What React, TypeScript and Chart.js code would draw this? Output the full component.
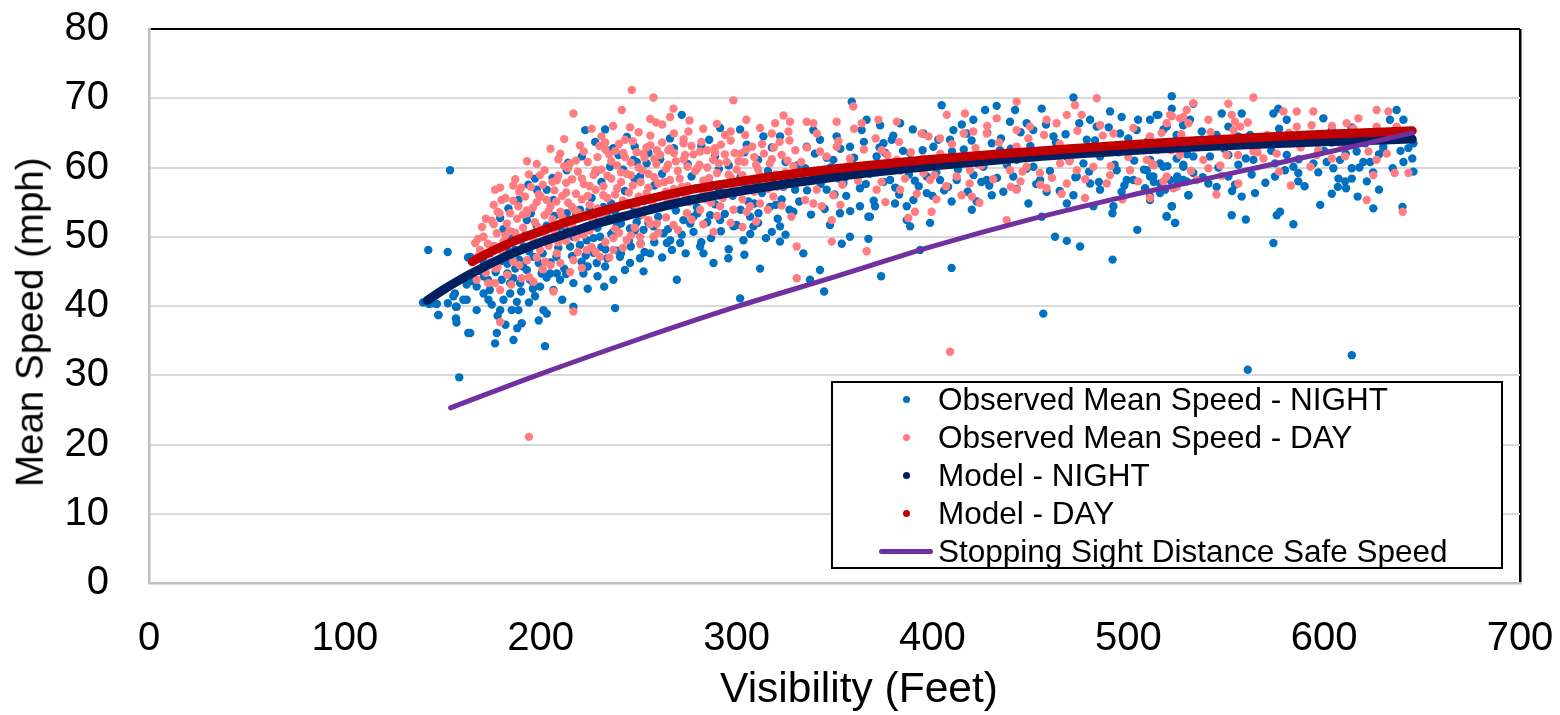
import React, { useEffect, useRef } from 'react';
import { Chart, registerables } from 'chart.js';

Chart.register(...registerables);

const FONT = "'Liberation Sans', Arial, Helvetica, sans-serif";

// ---------- axis ticks & titles ----------
const xTickValues = [0, 100, 200, 300, 400, 500, 600, 700];
const yTickValues = [0, 10, 20, 30, 40, 50, 60, 70, 80];
const xTitle = 'Visibility (Feet)';
const yTitle = 'Mean Speed (mph)';

// ---------- series labels ----------
const seriesLabels = [
  'Observed Mean Speed - NIGHT',
  'Observed Mean Speed - DAY',
  'Model - NIGHT',
  'Model - DAY',
  'Stopping Sight Distance Safe Speed',
];
const seriesColors = ['#0070C0', '#FF7C80', '#002060', '#C00000', '#7030A0'];

// ---------- Observed Mean Speed - NIGHT  [visibility ft, mph] ----------
const nightObserved: number[][] = [
  [142.6,48.1],[152.5,47.8],[153.7,59.6],[162.9,47.0],[162.2,43.1],[139.9,40.5],[143,40.3],[147,40.3],[147.7,38.7],[152.6,40.4],
  [156.2,41.8],[156.7,39.9],[160.5,40.9],[156.7,38.2],[157,37.6],[163,36.1],[158.4,29.7],[164,47.1],[167.3,39.4],[164,36.1],
  [176.7,34.6],[177.6,36.1],[175,40.2],[179.3,39.4],[186.1,35.1],[190.3,37.5],[184.4,41.8],[187.8,40.6],[180.1,43.8],[184.4,43.3],
  [179.3,52.7],[183.5,54.1],[188.6,55.3],[193.7,57.5],[197.1,58.4],[198,56.8],[196.3,47.1],[192.9,45.2],[197.1,41.4],[203.1,38.9],
  [201.4,39.4],[202.2,34.2],[196.3,43.3],[189.5,43.3],[203.1,56.8],[206.5,55.3],[208.2,51.0],[213.3,59.6],[208.2,44.7],[209.9,43.8],
  [216.7,43.3],[216.7,39.9],[222.7,65.4],[232.9,65.5],[227.8,63.7],[237.1,62.8],[239.7,61.8],[235.4,60.1],[247.3,61.1],[249,60.8],
  [254.1,60.6],[250.7,58.7],[221.8,44.7],[220.9,46.4],[228.6,46.2],[232.9,45.7],[237.1,43.8],[232.4,42.8],[238,39.7],[240.5,47.1],
  [245.6,46.2],[250.7,46.9],[252.5,45],[255.9,47.6],[264.4,49.1],[269.5,43.8],[271.2,49.1],[272,67.6],[266.1,49.5],[262.7,50.5],
  [276.3,51.9],[281.4,48.6],[283.1,47.6],[288.2,46.2],[295.8,46.9],[291.6,65.7],[301.8,65.5],[301.8,41.1],[305.2,63.3],[312,45.4],
  [313.7,64.5],[322.2,64.5],[322.2,51.5],[318,50.7],[322.2,49.3],[329,53.6],[329.9,56.8],[323.9,57.2],[286.5,53.1],[291.6,52.4],
  [298.4,51.5],[308.6,51.5],[303.5,49.5],[306.9,52.9],[311.2,53.4],[278,52.9],[279.7,54.3],[272.9,52.4],[257.6,51.5],[252.5,51],
  [245.6,51.2],[238.8,51.5],[230.3,50],[223.5,49.5],[216.7,50],[211.6,51.5],[213.3,53.4],[220.1,53.9],[226.9,52.4],[233.7,53.4],
  [240.5,52.4],[247.3,54.4],[192.9,52.4],[198,51.5],[184.4,50],[182.7,48.1],[186.9,48.1],[191.2,48.6],[174.2,47.6],[170.8,46.4],
  [167.3,42.8],[170.8,41.8],[173.3,40.9],[181,40.9],[185.2,39.4],[188.6,39.4],[199.7,42.8],[206.5,42.3],[204.8,44.7],[200.5,44.7],
  [194.6,43.8],[162.2,40.9],[155.4,41.4],[157.1,39.9],[147.8,38.7],[145.2,40.4],
  [226,55.6],[231,57.9],[236,54.8],[243,56.6],[248,58.3],[253,55.2],[258,57.4],[262,59.1],[267,54.5],[272,56.9],
  [277,58.7],[282,55.7],[287,57.5],[291,59.8],[296,56.3],[302,58.6],[306,55.1],[311,57.3],[316,59.5],[320,54.6],
  [326,58.1],[331,60.3],[336,56.7],[341,59.1],[346,61.4],[352,58.4],[356,55.9],[361,60.2],[366,57.6],[371,59.7],
  [376,62.1],[381,57.1],[385,60.4],[391,58.1],[396,61.2],[402,59.3],[406,56.7],[412,60.7],[416,62.6],[421,58.9],
  [425,61.7],[429,57.4],[191,45.7],[194,47.9],[199,46.2],[204,49.3],[208,47.1],[212,45.4],[215,48.6],[219,50.4],
  [223,47.3],[227,49.8],[229,44.3],[233,48.2],[237,50.7],[241,47.6],[245,49.4],[249,52.1],[183,46.1],[186,44.0],
  [196,42.5],[203,44.1],[211,40.9],[224,42.5],[177,44.9],[173,43.8],[169,45.1],[165,43.6],
  [358.8,69.5],[472,70.1],[522.2,70.3],[404.7,69],[432.8,68.9],[426.9,68.3],[442.2,68.3],[455.8,68.5],[511.1,66.9],[515.4,67.6],
  [490.7,68.1],[496.6,67.3],[366.4,66.9],[373.3,66.1],[383.5,66.4],[339.2,65.4],[410.7,65.4],[417.5,64.9],[439.6,66.6],[448.1,66.4],
  [480.5,66.9],[334.1,47.6],[342.6,45.2],[337.5,43.8],[344.7,42.1],[353.7,49],[357.9,50],[367.3,49.7],[367.3,52.9],[373.8,44.3],
  [393.7,48.1],[409.8,45.5],[398.8,52],[386.9,54.4],[390.3,55.3],[386.9,52.4],[388.6,51.5],[363,54.4],[352.8,53.4],[347.7,51.7],
  [368.1,52.9],[370.7,54.4],[380.9,54.8],[397.1,56.3],[403.9,58.2],[409.8,55.1],[420.1,53.9],[422.6,55.1],[430.3,56],[436.2,56.5],
  [449,54.8],[455.8,52.9],[458.3,56.5],[462.6,50],[468.6,49.4],[475.4,48.6],[468.6,54.8],[472,56],[482.2,54.4],[485.6,56.8],
  [492.4,54.4],[491.9,53.4],[492,46.7],[504.6,51],[496.6,56.5],[502.6,58.2],[508.6,57],[512.8,58.7],[519.6,52.9],[523.9,52],
  [522.2,54.4],[530.7,56],[518.8,56.8],[509.4,59.6],[516.2,60.6],[528.1,60.1],[533.2,61.6],[456.6,38.9],
  [349.4,61.1],[357.9,63],[375,63.5],[383.5,59.6],[392,60.6],[400.5,63],[409,64],[417.5,61.6],[426,60.1],[434.5,62.5],
  [443,61.1],[451.5,60.1],[460.1,62.1],[468.6,61.6],[477.1,60.6],[485.6,61.6],[494.1,59.6],[502.6,62.5],[511.1,61.1],[519.6,63],
  [528.1,58.2],[533.2,59.2],[340.9,58.2],[346,56.8],[354.5,57.7],[378.4,58.2],[397.1,58.7],[412.4,58.2],[427.7,58.2],[441.3,58.7],
  [455,58.2],[473.7,58.7],[480.5,57.7],[499.2,58.2],[511.1,55.8],[335.8,63],[342.6,64],[351.1,64.5],[363.9,65.4],[371.5,61.6],
  [379.2,64],[388.6,62.1],[395.4,64.9],[420.9,66.9],[430.3,63.5],[451.5,65.4],[461.8,64.5],[478.8,64],[483.9,65.9],[495.8,64.9],
  [504.3,65.4],[524.7,64.7],[531.5,66.9],
  [522.2,68.5],[533.2,69.2],[514.5,67.6],[547.7,67.8],[557.9,67.8],[574.1,67.8],[576.6,68.5],[580.9,66.9],[599.6,67.1],[637,68.3],
  [633.6,66.9],[640.5,66.9],[519.6,65.9],[537.5,65.2],[545.1,64.7],[551.1,65.9],[562.2,64.7],[587.7,64],[603.9,65.4],[613.2,64.9],
  [620,64],[630.2,63],[645.6,63.5],[643,62.8],[511.1,61.1],[517.9,60.1],[524.7,61.3],[528.1,60.4],[532.4,59.4],[541.7,61.6],
  [551.1,61.8],[556.2,60.4],[563.9,61.1],[574.9,60.6],[580.9,61.8],[584.3,60.1],[594.5,60.6],[601.3,60.8],[604.7,59.9],[608.1,61.1],
  [614.1,59.9],[616.6,62.3],[620,60.8],[623.5,60.8],[630.2,62.5],[640.5,60.8],[645.6,59.4],[511.1,58.7],[516.2,57.7],[521.3,58.2],
  [524.7,58.2],[529.8,58],[540.9,57.7],[545.1,57.2],[551.1,58.7],[554.5,57.5],[557.9,55.8],[564.7,56.3],[574.9,58.7],[586.8,59.2],
  [586.8,58],[603.9,56.2],[607.3,58.4],[610.7,58],[611.2,57],[614.1,58.4],[617.1,55.8],[621.8,58],[625.1,54.1],[511.1,55.3],
  [516.2,56.3],[530.7,56],[522.2,54.4],[519.6,53],[523.9,52],[552.8,53.1],[575.8,53.1],[577.5,53.6],[584.3,51.8],[574.1,49.1],
  [614.1,32.9],[561,30.8],
  [201,47.6],[203,51.6],[205,46.3],[207,53.0],[209,48.4],[211,49.9],[213,44.6],[214,51.5],[216,47.2],[218,53.2],
  [220,48.8],[222,51.0],[224,45.7],[225,53.9],[227,47.7],[229,51.3],[231,48.5],[232,54.3],[234,46.9],[236,50.4],
  [238,53.6],[239,48.0],[241,51.9],[243,45.2],[244,54.8],[246,48.6],[248,50.9],[250,53.0],[251,49.0],[253,47.8],
  [255,52.0],[256,55.3],[258,49.2],[260,52.9],[262,47.0],[263,54.5],[265,51.1],[267,48.1],[269,53.8],[270,56.4],
  [272,50.3],[274,47.6],[276,55.2],[278,50.7],[280,53.4],[282,49.2],[284,56.5],[285,52.1],[287,49.8],[289,54.7],
  [291,56.9],[292,50.8],[294,53.3],[296,48.2],[298,55.9],[300,51.7],[302,53.9],[304,47.4],[305,57.2],[307,50.4],
  [309,54.8],[311,52.0],[313,56.3],[315,49.8],[317,54.3],[319,57.6],[321,52.6],[323,55.4],[325,50.3],[327,53.9],[329,58.2],
  [206,58.5],[214,60.7],[221,61.6],[228,59.3],[234,62.5],[242,59.7],[248,63.0],[255,62.1],[261,61.2],[268,62.8],
  [275,60.5],[282,63.1],[289,61.6],[296,60.3],[304,62.2],[311,61.1],[318,62.9],[325,60.8],[244,64.4],[266,64.2],[286,64.0],
  [171,44.3],[174,42.3],[176,48.6],[178,38.6],[180,46.5],[182,37.3],[183,44.7],[185,50.7],[187,45.4],[188,36.8],
  [190,42.1],[192,50.2],[194,40.5],[195,53.4],[197,48.9],[199,37.9],[200,50.8],[181,51.1],[189,46.7],
  [332,55.1],[335,59.9],[338,53.2],[340,62.0],[343,57.6],[345,54.0],[348,60.0],[350,56.1],[353,62.7],[355,58.4],
  [358,53.7],[360,61.4],[363,57.0],[365,63.7],[368,59.1],[370,55.2],[373,62.9],[375,57.9],[378,60.6],[380,64.6],
  [383,56.1],[385,62.4],[388,59.0],[390,65.5],[393,57.3],[395,62.5],[398,60.1],[400,55.9],[403,64.0],[405,61.3],
  [408,57.2],[410,62.3],[413,59.7],[415,66.2],[418,56.5],[420,63.9],[423,60.6],[425,57.9],[428,65.0],[430,61.6],
  [433,58.5],[435,64.2],[438,60.4],[440,62.7],[443,56.9],[445,65.1],[448,59.8],[450,63.1],[453,57.6],[455,61.7],
  [458,66.2],[460,59.5],[463,63.6],[465,56.6],[468,64.8],[470,61.1],[473,58.6],[475,66.4],[478,62.0],[480,59.4],
  [483,63.9],[485,57.9],[488,62.7],[490,65.8],[493,60.4],[495,62.2],[498,57.4],[500,64.2],[503,61.0],[505,66.9],
  [508,59.7],[510,63.8],[513,57.9],[515,62.6],[518,65.5],[520,60.2],[523,63.5],[525,58.7],[528,66.1],[530,61.9],
  [535,63.9],[538,58.6],[542,64.0],[546,60.0],[549,62.7],[553,56.6],[556,64.5],[560,61.3],[563,59.0],[567,63.9],
  [570,57.8],[573,62.4],[577,65.6],[580,59.6],[583,63.5],[587,61.2],[590,57.3],[593,64.5],[597,59.3],[600,62.4],
  [604,63.6],[607,57.2],[611,62.0],[614,65.8],[618,60.0],[621,63.5],[625,59.3],[628,61.9],[632,64.8],[635,59.9],
  [639,62.4],[642,64.9],[645,61.3],[560,52.5],[598,54.6],[640,54.3],[628,56.8],
];

// ---------- Observed Mean Speed - DAY  [visibility ft, mph] ----------
const dayObserved: number[][] = [
  [246.5,71.2],[257.6,70.1],[241.4,68.3],[216.7,67.8],[266.1,67.3],[267.8,68.5],[255.9,67],[258.9,66.5],[245.6,65.8],[275.4,65.2],
  [232.9,63.6],[242.2,62.1],[252.4,62],[259.3,62.5],[265.2,62.5],[272.9,63.5],[273.7,61.8],[281.4,62.3],[289,62.1],[294.1,64.7],
  [298.4,69.7],[304.4,64.7],[319.7,66.4],[327.3,66.6],[326.5,65.2],[176.7,56.8],[179.3,57.1],[199.7,58.9],[208.2,58.2],[188.6,54.4],
  [192.9,53.4],[184.4,53.4],[182.7,51.9],[177.6,50.5],[170.8,50],[166.5,49.1],[169,48.1],[176.7,48.6],[173.3,43.3],[167.3,43.8],
  [176.7,43.3],[179.3,42.3],[179.3,37.7],[190.3,44],[196.3,43.5],[206.5,42.1],[216.7,39.2],[202.2,46.4],[199.7,48.1],[208.2,47.6],
  [216.7,46.6],[223.5,48.1],[230.3,47.1],[237.1,48.1],[237.1,49.8],[243.9,49.5],[250.7,50],[257.6,50],[259.3,51.9],[267.8,51.7],
  [274.6,53.4],[281.4,53.9],[288.2,50.7],[291.6,54.4],[298.4,53.9],[305.2,53.6],[312,54.8],[318.8,55.8],[330.7,48.6],[330.7,44],
  [306.9,54.4],[194,21.1],
  [186,55.2],[189,56.5],[192,55.8],[195,57.2],[198,55.0],[193,53.8],[188,52.6],[196,54.2],[199,56.1],
  [201,57.5],[203,55.3],[205,54.4],[207,56.7],[209,58.8],[211,55.9],[213,57.8],[214,54.9],[202,53.1],[206,52.5],[210,53.6],[212,60.2],
  [216,58.3],[218,56.2],[219,59.4],[221,55.4],[222,57.6],[224,60.8],[225,54.6],[227,58.9],[228,56.8],[229,61.5],[217,53.9],[223,53.2],
  [231,59.7],[232,57.3],[234,55.6],[235,61.9],[236,58.4],[238,56.1],[239,60.3],[241,57.9],[242,55.2],[244,59.1],[233,62.6],[240,63.4],
  [246,60.7],[247,57.4],[249,62.2],[250,55.8],[252,59.6],[253,61.4],[255,57.1],[256,63.2],[258,58.6],[259,60.5],[248,54.7],[254,56.3],
  [261,61.8],[263,57.9],[264,59.8],[266,62.7],[268,56.9],[269,60.9],[271,58.4],[273,61.2],[275,57.3],[277,63.1],[279,59.5],[265,55.4],[274,55.9],
  [281,60.4],[283,58.1],[285,62.5],[286,56.6],[288,61.1],[290,59.2],[292,63.3],[293,57.5],[295,60.8],[297,58.6],[299,62.1],[284,55.4],[296,56.2],
  [301,60.9],[303,58.9],[305,62.6],[307,57.8],[309,61.5],[311,59.7],[313,63.4],[315,58.3],[317,60.6],[319,62.9],[321,57.2],[323,61.8],[325,59.3],[327,63.9],[329,60.2],
  [181,49.3],[184,47.4],[187,50.6],[190,48.2],[193,46.6],[196,49.8],[199,51.2],[201,45.3],[204,48.7],[207,50.8],
  [210,46.2],[213,49.4],[216,51.6],[219,47.8],[222,50.3],[226,48.5],[229,51.9],[233,49.2],[236,52.4],[240,50.6],
  [244,52.9],[248,51.3],[252,53.2],[256,51.8],[178,45.6],[183,44.5],[189,45.9],[176,51.8],[172,52.6],[168,47.2],
  [174,46.3],[179,53.4],[182,50.2],[185,43.1],
  [335.8,66.6],[339.2,66.4],[351.1,66.6],[359.6,68.8],[363.9,66.4],[372.4,66.9],[381.8,66.6],[407.3,67.6],[416.6,67.8],[443,69.5],
  [432.8,67.1],[458.3,66.9],[468.6,67.6],[472.8,69],[483.9,70],[521.3,67.6],[526.4,67.1],[530.7,66.4],[533.2,69.3],[394.5,64.9],
  [403.9,64.2],[420.9,65.2],[427.7,64.9],[443,65.4],[449.8,65.9],[463.4,66.4],[476.2,67.6],[485.6,66.1],[492.4,64.9],[502.6,65.7],
  [511.1,64.5],[519.6,66.4],[342.6,62.3],[351.1,63],[357.9,61.3],[366.4,60.1],[374.1,62.5],[381.8,61.1],[388.6,60.1],[395.4,59.2],
  [405.6,60.6],[412.4,58.7],[419.2,59.6],[431.1,61.1],[439.6,59.6],[448.1,60.1],[454.9,59.2],[465.2,60.6],[473.7,59.6],[482.2,60.1],
  [490.7,58.9],[500.9,59.6],[509.4,61.1],[519.6,58.7],[334.1,58.2],[340.9,56.8],[349.4,56],[339.2,54.8],[343.5,54.4],[348.6,52.4],
  [348.6,49.3],[366.4,47.9],[371.5,56.8],[383.5,56.8],[387.7,52.7],[391.1,53.6],[399.6,53.6],[398.8,58.2],[414.9,56],[420.1,55.8],
  [437.9,52.4],[443,56.8],[455,57.5],[458.3,57],[468.6,57.7],[477.9,55.6],[489,57.7],[511.1,55.6],[534.9,58.2],[524.7,57.2],
  [409,33.4],
  [563.9,70.1],[551.1,69.2],[528.1,67.3],[522.2,67.4],[529.8,68.3],[540.9,66.9],[552.8,67.6],[554.5,66.6],[557.1,65.9],[553.7,65.4],
  [579.2,68.1],[586,68.1],[594.5,68.1],[586,65.9],[593.6,66.1],[611.5,66.4],[617.5,67.1],[626.8,68.3],[632.8,68.1],[626.8,65.9],
  [526.4,61.8],[538.3,61.1],[540.9,59.9],[547.7,58.8],[556.2,57.7],[563.9,62.3],[569,61.3],[575.8,62],[596.2,61.8],[603.9,61.3],
  [610.7,61.6],[622.6,62.3],[626.8,61.1],[625.1,58.9],[621.7,55.3],[643,59.2],[640.1,53.6],[512,60.6],[517.9,58],[523,57],
  [534.9,58.2],[550.2,61.8],[597,62.5],
  [187,58.3],[190,57.1],[191,53.2],[194,59.0],[197,52.1],[200,55.8],[202,59.6],[204,53.7],[206,57.9],[208,55.1],
  [209,61.2],[211,52.8],[213,56.4],[214,59.9],[216,54.3],[218,61.0],[219,53.5],[221,58.4],[222,62.3],[224,55.9],
  [225,57.3],[226,52.7],[228,59.6],[229,54.1],[230,63.1],[232,56.0],[233,53.6],[234,58.8],[236,60.9],[237,54.2],
  [238,62.4],[239,57.0],[241,59.3],[242,53.0],[243,61.5],[245,56.4],[246,58.9],[247,63.8],[249,54.6],[250,60.0],
  [251,57.9],[253,53.9],[254,62.9],[255,59.1],[257,55.0],[258,61.3],[260,57.7],[261,54.2],[262,63.6],[264,56.5],
  [265,60.4],[266,58.2],[268,62.1],[269,55.5],[270,59.5],[272,57.2],[273,64.1],[275,60.1],[276,55.0],[278,61.9],
  [279,57.0],[280,59.9],[282,63.7],[283,56.0],[285,60.0],[286,58.5],[287,54.9],[289,62.8],[290,57.5],[291,60.6],
  [293,55.6],[294,61.9],[296,59.0],[297,63.9],[298,56.7],[300,59.7],[302,62.0],[303,55.4],[304,60.8],[306,58.1],
  [308,63.0],[309,56.5],[310,60.4],[312,58.8],[314,62.0],[316,56.9],[318,61.2],[320,59.0],[322,63.7],[324,57.4],
  [326,61.0],[328,58.7],[330,62.5],
  [205,62.7],[212,64.1],[220,63.2],[226,65.6],[231,64.5],[237,66.0],[243,64.0],[250,65.1],[256,64.6],[262,66.2],
  [268,64.9],[276,66.8],[283,65.6],[290,66.3],[297,65.2],[305,66.9],[312,65.7],[318,64.9],[324,67.5],[215,60.6],
  [210,62.0],[198,60.5],[193,60.9],
  [186,46.4],[191,51.3],[194,44.2],[198,47.0],[203,50.0],[205,45.9],[209,49.2],[212,51.8],[215,44.9],[218,49.9],
  [221,45.5],[225,50.9],[228,47.8],[231,52.6],[235,47.0],[238,51.1],[242,48.4],[246,50.2],[251,48.9],[255,52.4],
  [260,50.6],[264,52.8],[270,51.0],[277,52.5],[283,51.8],[290,53.0],[297,52.0],[303,51.4],[310,52.2],[316,53.9],
  [323,54.5],[328,52.9],
  [333,60.8],[336,62.9],[338,59.2],[341,64.9],[344,58.5],[346,61.6],[349,59.5],[352,63.8],[354,57.5],[357,60.2],
  [360,65.6],[362,58.1],[365,62.6],[368,59.6],[371,64.2],[374,57.9],[377,61.8],[380,59.6],[383,63.7],[386,58.4],
  [389,62.2],[392,56.2],[395,61.3],[398,64.5],[401,58.9],[404,62.0],[407,57.3],[410,63.4],[413,60.6],[416,64.9],
  [419,57.7],[422,62.8],[425,60.3],[428,66.0],[431,58.3],[434,63.6],[437,61.0],[440,57.2],[443,63.0],[446,59.4],
  [449,64.2],[335,55.3],[353,54.6],[376,55.0],[402,55.4],[424,54.9],[445,58.0],
  [453,61.5],[457,64.7],[461,58.5],[465,63.4],[470,60.9],[474,65.3],[478,58.3],[482,62.9],[487,64.6],[491,60.2],
  [496,63.0],[500,61.5],[505,58.0],[508,63.4],[513,60.3],[517,65.0],[522,62.5],[527,64.8],[532,59.5],[537,63.3],
  [542,65.1],[547,60.3],[551,63.6],[556,61.8],[561,66.5],[566,62.2],[571,64.7],[577,59.4],[582,65.0],[588,62.9],
  [593,60.1],[599,64.5],[604,66.0],[609,63.2],[615,65.6],[621,63.8],[627,64.9],[632,62.0],[637,65.9],[642,64.2],
  [466,56.2],[497,55.4],[545,56.1],[583,57.4],[636,59.2],
  [166,46.6],[168,49.7],[170,51.4],[171,47.4],[173,49.0],[175,52.3],[177,45.4],[178,53.6],[180,48.0],[182,55.6],
  [184,50.8],[186,57.4],[172,44.8],[176,54.6],[180,55.3],
];

// ---------- Model - NIGHT ----------
const modelNightX = [142, 150, 160, 170, 180, 190, 200, 215, 230, 250, 275, 300, 332, 360, 400, 435, 470, 500, 537, 570, 600, 645];
const modelNightY = [40.8, 42.3, 44.0, 45.5, 46.9, 48.1, 49.2, 50.6, 52.0, 53.5, 55.2, 56.5, 57.9, 59.0, 60.2, 61.1, 61.9, 62.4, 63.0, 63.4, 63.7, 64.1];

// ---------- Model - DAY ----------
const modelDayX = [165, 175, 185, 200, 215, 230, 250, 275, 300, 332, 360, 400, 435, 470, 500, 537, 570, 600, 645];
const modelDayY = [46.4, 47.9, 49.2, 50.8, 52.3, 53.6, 55.1, 56.7, 57.9, 59.2, 60.1, 61.2, 62.0, 62.7, 63.3, 63.9, 64.4, 64.8, 65.3];

// ---------- Stopping Sight Distance Safe Speed ----------
const ssdX = [154, 200, 250, 300, 350, 400, 450, 500, 550, 600, 645];
const ssdY = [25.3, 30.2, 35.2, 39.9, 44.2, 48.6, 52.5, 55.9, 59.0, 62.1, 65.0];

const pairs = (arr: number[][]) => arr.map(([x, y]) => ({ x, y }));
const zipXY = (xs: number[], ys: number[]) => xs.map((x, i) => ({ x, y: ys[i] }));

const resetPadding = (s: any) => {
  s.paddingTop = 0;
  s.paddingBottom = 0;
  s.paddingLeft = 0;
  s.paddingRight = 0;
};

export default function App() {
  const canvasRef = useRef<HTMLCanvasElement | null>(null);

  useEffect(() => {
    if (!canvasRef.current) return;
    const chart = new Chart(canvasRef.current, {
      type: 'scatter',
      data: {
        datasets: [
          {
            label: seriesLabels[4],
            data: zipXY(ssdX, ssdY),
            showLine: true,
            borderColor: seriesColors[4],
            backgroundColor: seriesColors[4],
            borderWidth: 5,
            pointRadius: 0,
            cubicInterpolationMode: 'monotone',
            borderCapStyle: 'round',
            fill: false,
            order: 0,
          },
          {
            label: seriesLabels[3],
            data: zipXY(modelDayX, modelDayY),
            showLine: true,
            borderColor: seriesColors[3],
            backgroundColor: seriesColors[3],
            borderWidth: 9,
            pointRadius: 0,
            cubicInterpolationMode: 'monotone',
            borderCapStyle: 'round',
            fill: false,
            order: 1,
          },
          {
            label: seriesLabels[2],
            data: zipXY(modelNightX, modelNightY),
            showLine: true,
            borderColor: seriesColors[2],
            backgroundColor: seriesColors[2],
            borderWidth: 9,
            pointRadius: 0,
            cubicInterpolationMode: 'monotone',
            borderCapStyle: 'round',
            fill: false,
            order: 2,
          },
          {
            label: seriesLabels[1],
            data: pairs(dayObserved),
            backgroundColor: seriesColors[1],
            borderWidth: 0,
            pointRadius: 4.2,
            order: 3,
          },
          {
            label: seriesLabels[0],
            data: pairs(nightObserved),
            backgroundColor: seriesColors[0],
            borderWidth: 0,
            pointRadius: 4.2,
            order: 4,
          },
        ],
      },
      options: {
        responsive: false,
        animation: false,
        events: [],
        layout: { padding: { top: 29, right: 40, left: 0, bottom: 0 } },
        plugins: {
          legend: { display: false },
          tooltip: { enabled: false },
        },
        scales: {
          x: {
            type: 'linear',
            min: 0,
            max: 700,
            afterBuildTicks: (s: any) => {
              s.ticks = xTickValues.map((v) => ({ value: v }));
            },
            afterFit: (s: any) => {
              s.height = 132;
              resetPadding(s);
            },
            ticks: {
              font: { size: 40, family: FONT },
              color: '#000',
              padding: 32,
              maxRotation: 0,
              autoSkip: false,
            },
            grid: {
              drawTicks: false,
              color: (c: any) => (c.tick && c.tick.value === 700 ? '#000000' : 'rgba(0,0,0,0)'),
              lineWidth: 2.5,
            },
            border: { color: '#BFBFBF', width: 2.5 },
            title: { display: false },
          },
          y: {
            type: 'linear',
            min: 0,
            max: 80,
            afterBuildTicks: (s: any) => {
              s.ticks = yTickValues.map((v) => ({ value: v }));
            },
            afterFit: (s: any) => {
              s.width = 149;
              resetPadding(s);
            },
            ticks: {
              font: { size: 40, family: FONT },
              color: '#000',
              padding: 40,
              autoSkip: false,
            },
            grid: {
              drawTicks: false,
              color: (c: any) => (c.tick && c.tick.value === 80 ? '#000000' : '#D9D9D9'),
              lineWidth: 2,
            },
            border: { color: '#BFBFBF', width: 2.5 },
            title: { display: false },
          },
        },
      },
    } as any);
    return () => chart.destroy();
  }, []);

  const legendTop = 381;
  const legendLeft = 831;
  const rowCenters = [399, 437, 475, 513, 551];

  return (
    <div style={{ position: 'absolute', left: 0, top: 0, width: 1560, height: 715, background: '#fff', overflow: 'hidden' }}>
      <canvas ref={canvasRef} width={1560} height={715} style={{ display: 'block', width: 1560, height: 715 }} />
      {/* x axis title */}
      <div
        style={{
          position: 'absolute',
          left: 859 - 300,
          top: 667,
          width: 600,
          textAlign: 'center',
          fontFamily: FONT,
          fontSize: 42.5,
          lineHeight: '42.5px',
          color: '#000',
          whiteSpace: 'nowrap',
        }}
      >
        {xTitle}
      </div>
      {/* y axis title */}
      <div
        style={{
          position: 'absolute',
          left: 30 - 250,
          top: 322 - 19.25,
          width: 500,
          height: 38.5,
          textAlign: 'center',
          fontFamily: FONT,
          fontSize: 38.5,
          lineHeight: '38.5px',
          color: '#000',
          whiteSpace: 'nowrap',
          transform: 'rotate(-90deg)',
          transformOrigin: '50% 50%',
        }}
      >
        {yTitle}
      </div>
      <div
        style={{
          position: 'absolute',
          left: legendLeft,
          top: legendTop,
          width: 672,
          height: 188,
          boxSizing: 'border-box',
          border: '2px solid #000',
          background: '#fff',
          fontFamily: FONT,
          fontSize: 31.5,
          color: '#000',
        }}
      >
        {seriesLabels.map((label, i) => {
          const top = rowCenters[i] - legendTop - 19 - 2;
          return (
            <div key={label} style={{ position: 'absolute', left: 0, top, height: 38, width: 668 }}>
              {i < 4 ? (
                <span
                  style={{
                    position: 'absolute',
                    left: 75 - 2 - 3.5,
                    top: 19 - 3.5,
                    width: 7,
                    height: 7,
                    borderRadius: '50%',
                    background: seriesColors[i],
                  }}
                />
              ) : (
                <span
                  style={{
                    position: 'absolute',
                    left: 48 - 2,
                    top: 19 - 2.5,
                    width: 54,
                    height: 5,
                    borderRadius: 2.5,
                    background: seriesColors[i],
                  }}
                />
              )}
              <span
                style={{
                  position: 'absolute',
                  left: 107 - 2,
                  top: 0,
                  lineHeight: '38px',
                  whiteSpace: 'nowrap',
                }}
              >
                {label}
              </span>
            </div>
          );
        })}
      </div>
    </div>
  );
}
